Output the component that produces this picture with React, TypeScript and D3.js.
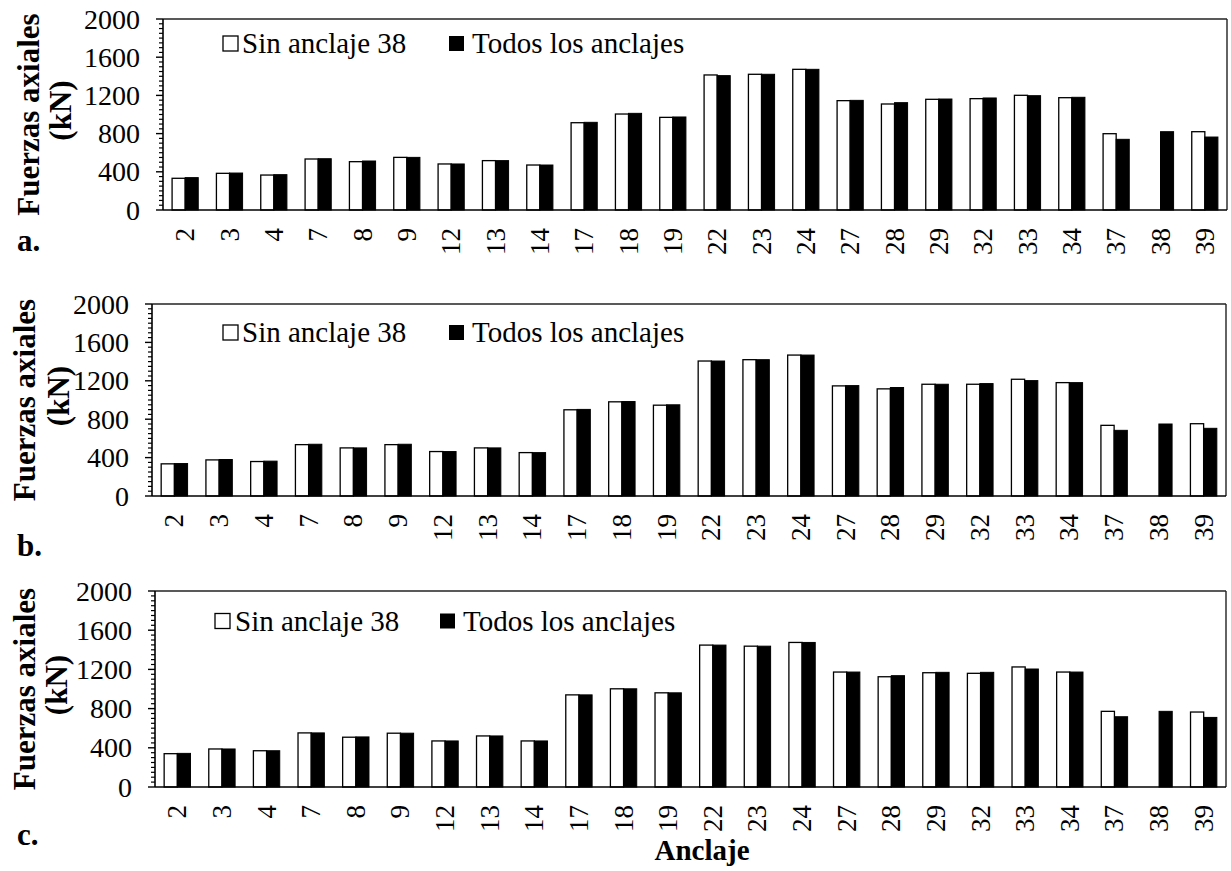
import React from 'react';
import * as d3 from 'd3';

// anchors on the x axis
const anclajes = ['2', '3', '4', '7', '8', '9', '12', '13', '14', '17', '18', '19', '22', '23', '24', '27', '28', '29', '32', '33', '34', '37', '38', '39'];

// axial forces (kN); null = no bar
const sinA: (number | null)[] = [332, 384, 366, 534, 506, 551, 482, 517, 471, 914, 1005, 970, 1414, 1421, 1473, 1145, 1110, 1159, 1166, 1201, 1176, 799, null, 820];
const todosA: (number | null)[] = [339, 387, 370, 537, 513, 551, 482, 517, 471, 918, 1012, 974, 1407, 1421, 1473, 1148, 1124, 1162, 1173, 1197, 1180, 740, 820, 764];

const sinB: (number | null)[] = [335, 376, 359, 535, 501, 535, 463, 501, 452, 898, 981, 946, 1406, 1420, 1468, 1147, 1116, 1164, 1164, 1216, 1181, 736, null, 753];
const todosB: (number | null)[] = [338, 380, 363, 539, 501, 539, 463, 501, 452, 902, 984, 950, 1406, 1420, 1468, 1150, 1130, 1164, 1171, 1202, 1181, 684, 750, 705];

const sinC: (number | null)[] = [340, 388, 370, 552, 508, 549, 470, 521, 470, 940, 1002, 961, 1448, 1437, 1475, 1173, 1125, 1166, 1160, 1225, 1173, 772, null, 765];
const todosC: (number | null)[] = [343, 388, 370, 552, 511, 549, 470, 521, 470, 940, 1002, 961, 1448, 1437, 1475, 1173, 1136, 1170, 1170, 1204, 1173, 717, 772, 710];

const yTicks = [0, 400, 800, 1200, 1600, 2000];
const seriesNames = ['Sin anclaje 38', 'Todos los anclajes'];
const panelLetters = ['a.', 'b.', 'c.'];
const yTitle = ['Fuerzas axiales', '(kN)'];
const xTitle = 'Anclaje';

const FONT = 'Liberation Serif, DejaVu Serif, serif';

interface PanelProps {
    sin: (number | null)[];
    todos: (number | null)[];
    letter: string;
    left: number;
    right: number;
    top: number;
    bottom: number;
    legendY: number;
    leg1X: number;
    leg1TextX: number;
    leg2X: number;
    leg2TextX: number;
    letterY: number;
    title1X: number;
    title2X: number;
}

function Panel(p: PanelProps) {
    const x = d3.scaleBand<string>()
        .domain(anclajes)
        .range([p.left, p.right])
        .paddingInner(0.41)
        .paddingOuter(0.205);
    const xs = d3.scaleBand<string>()
        .domain(['sin', 'todos'])
        .range([0, x.bandwidth()]);
    const y = d3.scaleLinear().domain([0, 2000]).range([p.bottom, p.top]);
    const minor = d3.range(0, 2001, 50).filter(v => v % 400 !== 0);

    const bars: React.ReactNode[] = [];
    anclajes.forEach((a, i) => {
        const s = p.sin[i];
        const t = p.todos[i];
        if (s !== null) {
            bars.push(<rect key={'s' + a} x={(x(a) as number) + (xs('sin') as number)} y={y(s)}
                width={xs.bandwidth()} height={y(0) - y(s)} fill="#fff" stroke="#000" strokeWidth={1.3} />);
        }
        if (t !== null) {
            bars.push(<rect key={'t' + a} x={(x(a) as number) + (xs('todos') as number)} y={y(t)}
                width={xs.bandwidth()} height={y(0) - y(t)} fill="#000" stroke="#000" strokeWidth={1} />);
        }
    });

    const midY = (p.top + p.bottom) / 2;
    const txt = { fontFamily: FONT };

    return (
        <g>
            {/* plot frame */}
            <line x1={p.left} x2={p.right} y1={p.top} y2={p.top} stroke="#222" strokeWidth={1.4} />
            <line x1={p.right} x2={p.right} y1={p.top} y2={p.bottom} stroke="#222" strokeWidth={1.4} />
            {bars}
            {/* axes */}
            <line x1={p.left} x2={p.right} y1={p.bottom} y2={p.bottom} stroke="#000" strokeWidth={1.6} />
            <line x1={p.left} x2={p.left} y1={p.top} y2={p.bottom} stroke="#000" strokeWidth={1.6} />
            {yTicks.map(v => (
                <g key={'yt' + v}>
                    <line x1={p.left - 7} x2={p.left} y1={y(v)} y2={y(v)} stroke="#000" strokeWidth={1.4} />
                    <text x={p.left - 23} y={y(v)} dy="0.34em" textAnchor="end" fontSize={28} style={txt}>{v}</text>
                </g>
            ))}
            {minor.map(v => (
                <line key={'mt' + v} x1={p.left - 4} x2={p.left} y1={y(v)} y2={y(v)} stroke="#000" strokeWidth={1.2} />
            ))}
            {anclajes.map(a => {
                const cx = (x(a) as number) + x.bandwidth() / 2;
                return (
                    <text key={'xl' + a} transform={`translate(${cx + 9},${p.bottom + 18}) rotate(-90)`}
                        textAnchor="end" fontSize={27} style={txt}>{a}</text>
                );
            })}
            {/* legend */}
            <rect x={p.leg1X} y={p.legendY - 7.5} width={15} height={15} fill="#fff" stroke="#000" strokeWidth={1.3} />
            <text x={p.leg1TextX} y={p.legendY + 9.5} fontSize={29} style={txt}>{seriesNames[0]}</text>
            <rect x={p.leg2X} y={p.legendY - 7.5} width={15} height={15} fill="#000" />
            <text x={p.leg2TextX} y={p.legendY + 9.5} fontSize={29} style={txt}>{seriesNames[1]}</text>
            {/* y title */}
            <text transform={`translate(${p.title1X},${midY}) rotate(-90)`} textAnchor="middle"
                fontSize={31} fontWeight="bold" style={txt}>{yTitle[0]}</text>
            <text transform={`translate(${p.title2X},${midY - 4}) rotate(-90)`} textAnchor="middle"
                fontSize={31} fontWeight="bold" style={txt}>{yTitle[1]}</text>
            <text x={17} y={p.letterY} fontSize={31} fontWeight="bold" style={txt}>{p.letter}</text>
        </g>
    );
}

export default function App() {
    return (
        <div style={{ position: 'absolute', left: 0, top: 0, background: '#fff' }}>
            <svg width={1231} height={871} style={{ display: 'block', fontFamily: FONT }}>
                <rect width={1231} height={871} fill="#fff" />
                <Panel sin={sinA} todos={todosA} letter={panelLetters[0]}
                    left={163} right={1227} top={19} bottom={210}
                    legendY={43.5} leg1X={223} leg1TextX={242} leg2X={449} leg2TextX={472}
                    letterY={251} title1X={39} title2X={71} />
                <Panel sin={sinB} todos={todosB} letter={panelLetters[1]}
                    left={152} right={1226} top={304} bottom={496}
                    legendY={332.5} leg1X={223} leg1TextX={242} leg2X={449} leg2TextX={472}
                    letterY={556} title1X={35} title2X={69} />
                <Panel sin={sinC} todos={todosC} letter={panelLetters[2]}
                    left={155} right={1226} top={591} bottom={787}
                    legendY={621} leg1X={215} leg1TextX={235} leg2X={440} leg2TextX={463}
                    letterY={845} title1X={35} title2X={67} />
                <text x={702} y={860} textAnchor="middle" fontSize={29} fontWeight="bold" style={{ fontFamily: FONT }}>{xTitle}</text>
            </svg>
        </div>
    );
}
